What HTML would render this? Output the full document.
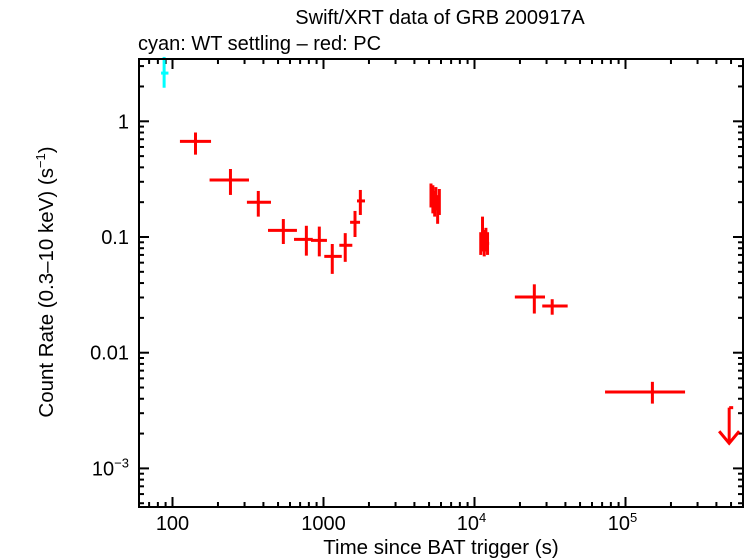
<!DOCTYPE html>
<html><head><meta charset="utf-8"><style>
html,body{margin:0;padding:0;background:#fff;}
svg{display:block;font-family:"Liberation Sans",sans-serif;}
</style></head><body>
<svg id="chart" width="746" height="558">
<text x="440" y="24" font-size="20" text-anchor="middle">Swift/XRT data of GRB 200917A</text>
<text x="138" y="50" font-size="20">cyan: WT settling – red: PC</text>
<text x="441" y="554" font-size="20.5" text-anchor="middle">Time since BAT trigger (s)</text>
<text transform="translate(53,282) rotate(-90)" font-size="20.5" text-anchor="middle">Count Rate (0.3–10 keV) (s<tspan dy="-8" font-size="13">−1</tspan><tspan dy="8">)</tspan></text>
<g id="ticks"></g>
<g id="marks"></g>
<rect x="139" y="59" width="604" height="448" fill="none" stroke="#000" stroke-width="2"/>
</svg>
<script>
// data
const wtT=[88], wtTlo=[84], wtThi=[94], wtR=[2.61], wtRlo=[1.95], wtRhi=[3.6];
const pcT=[142,242,370,542,770,938,1143,1393,1617,1754,5150,5300,5450,5550,5700,5850,11000,11300,11600,11900,12200,24900,32700,150700];
const pcTlo=[112,176,311,429,638,826,1012,1273,1500,1667,5080,5230,5380,5480,5630,5780,10800,11150,11450,11750,12050,18500,28100,73200];
const pcThi=[180,321,449,667,849,1054,1321,1552,1746,1883,5220,5370,5520,5620,5770,5920,11150,11450,11750,12050,12500,29300,41400,248000];
const pcR=[0.67,0.311,0.1995,0.114,0.0955,0.0936,0.068,0.0848,0.134,0.205,0.23,0.21,0.19,0.22,0.17,0.20,0.085,0.10,0.09,0.095,0.088,0.0303,0.0253,0.00457];
const pcRlo=[0.515,0.231,0.15,0.087,0.069,0.068,0.048,0.061,0.1,0.155,0.18,0.16,0.15,0.17,0.13,0.155,0.07,0.075,0.068,0.075,0.07,0.0218,0.0213,0.00363];
const pcRhi=[0.80,0.387,0.25,0.143,0.125,0.123,0.087,0.108,0.168,0.255,0.29,0.28,0.25,0.27,0.23,0.26,0.11,0.15,0.115,0.12,0.11,0.039,0.029,0.0056];
const ulT=[486000], ulR=[0.00335], ulTip=[0.00165];
const xTickVals=[100,1000,10000,100000];
const xTickLabels=[["100",""],["1000",""],["10","4"],["10","5"]];
const yTickVals=[1,0.1,0.01,0.001];
const yTickLabels=[["1",""],["0.1",""],["0.01",""],["10","−3"]];

const X=t=>172.5+(Math.log10(t)-2)*151;
const Y=r=>121.3-Math.log10(r)*115.7;
const NS="http://www.w3.org/2000/svg";
function mk(tag,attrs,parent){const e=document.createElementNS(NS,tag);for(const k in attrs)e.setAttribute(k,attrs[k]);parent.appendChild(e);return e;}
const tg=document.getElementById('ticks'), mg=document.getElementById('marks');
for(let d=1;d<=5;d++)for(let m=1;m<10;m++){const v=m*Math.pow(10,d);const x=X(v);if(x<139||x>743)continue;const L=m===1?10:5;
 const t1=mk('line',{x1:x,x2:x,y1:507,y2:507-L,stroke:'#000','stroke-width':2},tg);
 
 
 const t2=mk('line',{x1:x,x2:x,y1:59,y2:59+L,stroke:'#000','stroke-width':2},tg);
 
 }
for(let d=-4;d<=0;d++)for(let m=1;m<10;m++){const v=m*Math.pow(10,d);const y=Y(v);if(y<59||y>507)continue;const L=m===1?10:5;
 const t1=mk('line',{x1:139,x2:139+L,y1:y,y2:y,stroke:'#000','stroke-width':2},tg);
 
 
 const t2=mk('line',{x1:743,x2:743-L,y1:y,y2:y,stroke:'#000','stroke-width':2},tg);
 
 }
xTickVals.forEach((v,i)=>{const t=mk('text',{x:X(v)+(xTickLabels[i][1]?-3:0),y:530,'font-size':20,'text-anchor':'middle'},tg);
 
 
 t.textContent=xTickLabels[i][0];
 if(xTickLabels[i][1]){const s=mk('tspan',{dy:-8,'font-size':13},t);s.textContent=xTickLabels[i][1];}});
yTickVals.forEach((v,i)=>{const t=mk('text',{x:129,y:Y(v)+7,'font-size':20,'text-anchor':'end'},tg);
 
 
 if(yTickLabels[i][1]){t.textContent=yTickLabels[i][0];const s=mk('tspan',{dy:-8,'font-size':13},t);s.textContent=yTickLabels[i][1];}
 else t.textContent=yTickLabels[i][0];});
function cross(t,tl,th,r,rl,rh,col,name){const g=mk('g',{stroke:col,'stroke-width':3},mg);
 
 
 mk('line',{x1:X(tl),x2:X(th),y1:Y(r),y2:Y(r)},g);mk('line',{x1:X(t),x2:X(t),y1:Y(rl),y2:Y(rh)},g);}
wtT.forEach((t,i)=>cross(t,wtTlo[i],wtThi[i],wtR[i],wtRlo[i],wtRhi[i],'#00ffff','wt-point'));
pcT.forEach((t,i)=>cross(t,pcTlo[i],pcThi[i],pcR[i],pcRlo[i],pcRhi[i],'#ff0000','pc-point'));
ulT.forEach((t,i)=>{const g=mk('g',{stroke:'#ff0000','stroke-width':3,fill:'none'},mg);
 
 
 const x=X(t),y0=Y(ulR[i]),y1=Y(ulTip[i]);
 mk('line',{x1:x,x2:x+4,y1:y0,y2:y0},g);mk('line',{x1:x,x2:x,y1:y0,y2:y1},g);
 mk('polyline',{points:`${x-10},${y1-12} ${x},${y1} ${x+10},${y1-12}`},g);});
</script>
</body></html>
